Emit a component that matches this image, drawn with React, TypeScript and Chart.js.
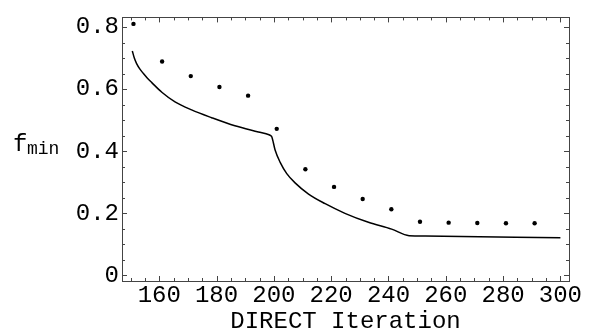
import React, { useEffect, useRef } from "react";
import { Chart, registerables } from "chart.js";

Chart.register(...registerables);

// Dots: DIRECT iterations vs f_min
const dotIter = [151, 161, 171, 181, 191, 201, 211, 221, 231, 241, 251, 261, 271, 281, 291];
const dotFmin = [0.81, 0.689, 0.642, 0.607, 0.579, 0.472, 0.342, 0.285, 0.246, 0.213, 0.173, 0.17, 0.169, 0.168, 0.168];

// Solid curve
const lineIter = [150.6, 151.3, 152.1, 153.2, 154.4, 155.8, 157.4, 160.9, 165.5, 171.3, 178.3, 186.4, 194.6, 198.3, 198.9, 199.3, 200.4, 202.2, 204.5, 207.4, 212.1, 217.9, 224.8, 233.0, 241.1, 247.2, 252.8, 300];
const lineFmin = [0.723, 0.700, 0.682, 0.665, 0.651, 0.636, 0.621, 0.59, 0.559, 0.533, 0.508, 0.482, 0.462, 0.453, 0.450, 0.446, 0.405, 0.364, 0.328, 0.298, 0.262, 0.231, 0.2, 0.171, 0.149, 0.128, 0.127, 0.121];

// Axis ticks
const xMajorTicks = [160, 180, 200, 220, 240, 260, 280, 300];
const xMinorTicks = [150, 155, 165, 170, 175, 185, 190, 195, 205, 210, 215, 225, 230, 235, 245, 250, 255, 265, 270, 275, 285, 290, 295];
const yMajorTicks = [0, 0.2, 0.4, 0.6, 0.8];
const yMinorTicks = [0.05, 0.1, 0.15, 0.25, 0.3, 0.35, 0.45, 0.5, 0.55, 0.65, 0.7, 0.75];

const xRange = [147, 303];
const yRange = [-0.018, 0.831];

const FONT = "'Liberation Mono', 'Courier New', monospace";

const framePlugin = {
  id: "frameTicks",
  afterDatasetsDraw(chart: any) {
    const { ctx, chartArea, scales } = chart;
    const { left, right, top, bottom } = chartArea;
    const xs = scales.x;
    const ys = scales.y;
    ctx.save();
    ctx.strokeStyle = "#444";
    ctx.lineWidth = 1;
    ctx.beginPath();
    const tick = (vals: number[], len: number) => {
      for (const v of vals) {
        const px = Math.round(xs.getPixelForValue(v)) + 0.5;
        ctx.moveTo(px, bottom);
        ctx.lineTo(px, bottom - len);
        ctx.moveTo(px, top);
        ctx.lineTo(px, top + len);
      }
    };
    const ytick = (vals: number[], len: number) => {
      for (const v of vals) {
        const py = Math.round(ys.getPixelForValue(v)) + 0.5;
        ctx.moveTo(left, py);
        ctx.lineTo(left + len, py);
        ctx.moveTo(right, py);
        ctx.lineTo(right - len, py);
      }
    };
    tick(xMajorTicks, 5);
    tick(xMinorTicks, 3);
    ytick(yMajorTicks, 5);
    ytick(yMinorTicks, 3);
    ctx.stroke();
    ctx.strokeRect(Math.round(left) + 0.5, Math.round(top) + 0.5, Math.round(right - left), Math.round(bottom - top));

    // y-axis label f_min
    ctx.fillStyle = "#000";
    ctx.textAlign = "left";
    ctx.textBaseline = "alphabetic";
    ctx.font = `24px ${FONT}`;
    ctx.fillText("f", 13, 151);
    ctx.font = `18px ${FONT}`;
    ctx.fillText("min", 27, 154);
    ctx.restore();
  },
};

export default function App() {
  const ref = useRef<HTMLCanvasElement>(null);
  useEffect(() => {
    if (!ref.current) return;
    const chart = new Chart(ref.current, {
      type: "scatter",
      data: {
        datasets: [
          {
            data: lineIter.map((x, i) => ({ x, y: lineFmin[i] })),
            showLine: true,
            borderColor: "#000",
            borderWidth: 1.5,
            pointRadius: 0,
            cubicInterpolationMode: "monotone",
          },
          {
            data: dotIter.map((x, i) => ({ x, y: dotFmin[i] })),
            showLine: false,
            pointRadius: 2.2,
            pointBackgroundColor: "#000",
            pointBorderWidth: 0,
            borderColor: "#000",
          },
        ],
      },
      options: {
        animation: false,
        responsive: false,
        maintainAspectRatio: false,
        layout: { padding: { left: 0, right: 20, top: 5, bottom: 0 } },
        plugins: { legend: { display: false }, tooltip: { enabled: false } },
        scales: {
          x: {
            type: "linear",
            min: xRange[0],
            max: xRange[1],
            afterBuildTicks: (s: any) => {
              s.ticks = xMajorTicks.map((v) => ({ value: v }));
            },
            afterFit: (s: any) => {
              s.height = 53;
            },
            grid: { display: false, drawTicks: false },
            border: { display: false },
            ticks: {
              color: "#000",
              padding: 0,
              maxRotation: 0,
              autoSkip: false,
              font: { family: FONT, size: 24 },
              callback: (v: any) => String(v),
            },
            title: {
              display: true,
              text: "DIRECT Iteration",
              color: "#000",
              padding: 0,
              font: { family: FONT, size: 24, lineHeight: 1 },
            },
          },
          y: {
            type: "linear",
            min: yRange[0],
            max: yRange[1],
            afterBuildTicks: (s: any) => {
              s.ticks = yMajorTicks.map((v) => ({ value: v }));
            },
            afterFit: (s: any) => {
              s.width = 122;
            },
            grid: { display: false, drawTicks: false },
            border: { display: false },
            ticks: {
              color: "#000",
              padding: 3,
              autoSkip: false,
              font: { family: FONT, size: 24 },
              callback: (v: any) => (v === 0 ? "0" : Number(v).toFixed(1)),
            },
          },
        },
      },
      plugins: [framePlugin],
    });
    return () => chart.destroy();
  }, []);
  return (
    <div style={{ position: "fixed", left: 0, top: 0, width: 589, height: 334, background: "#fff" }}>
      <canvas ref={ref} width={589} height={334} style={{ width: 589, height: 334, display: "block" }} />
    </div>
  );
}
